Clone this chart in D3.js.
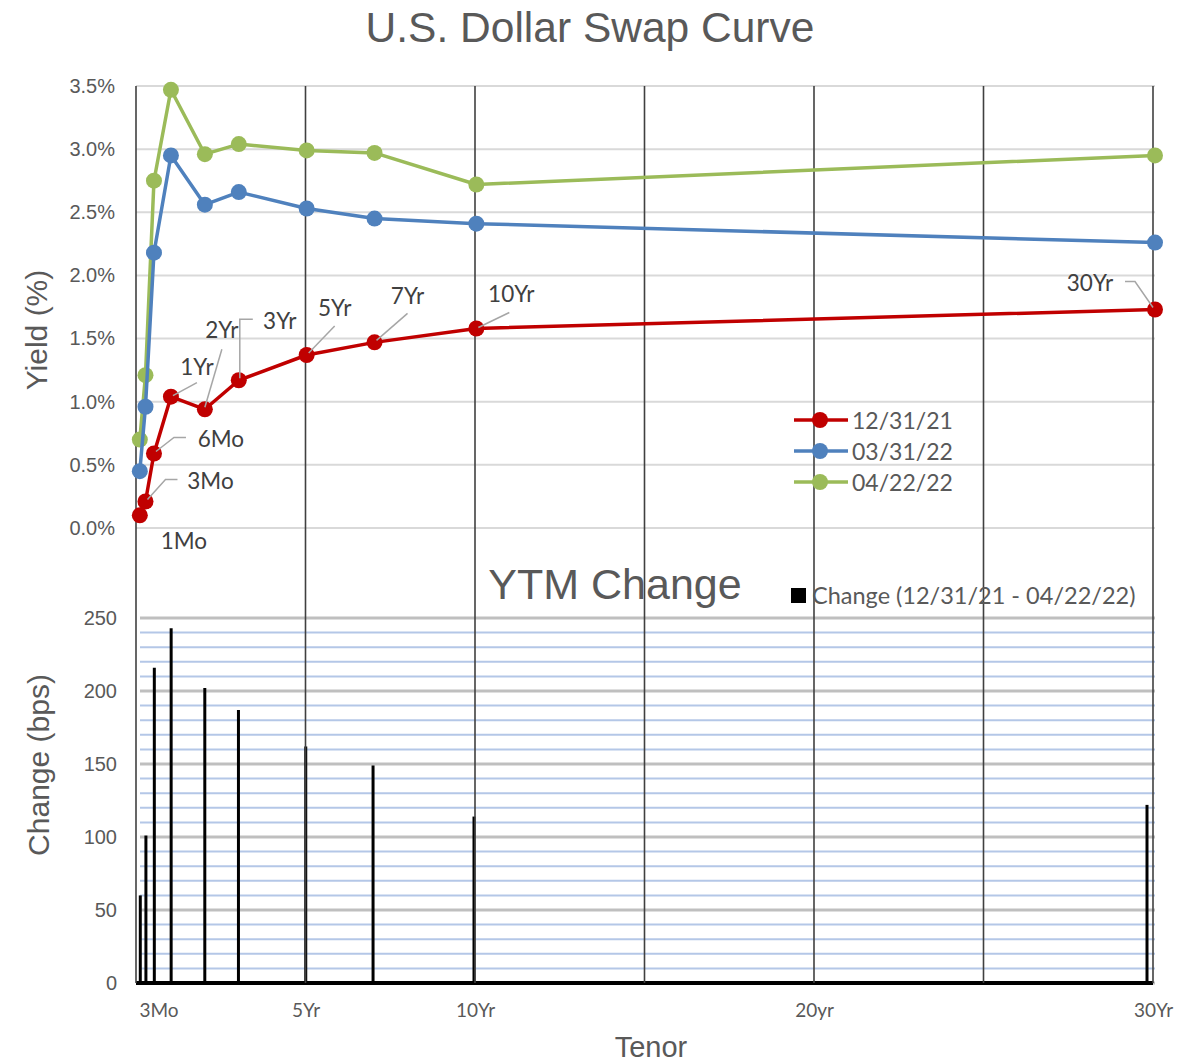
<!DOCTYPE html>
<html>
<head>
<meta charset="utf-8">
<script src="https://cdn.jsdelivr.net/npm/d3@7"></script>
<style>
  html, body { margin: 0; padding: 0; background: #fff; }
  svg { display: block; }
</style>
</head>
<body>
<svg id="chart" width="1199" height="1064"></svg>
<script>
// ---------- DATA ----------
const tenors = ["1Mo", "3Mo", "6Mo", "1Yr", "2Yr", "3Yr", "5Yr", "7Yr", "10Yr", "30Yr"];
const tenorYears = [0.083, 0.25, 0.5, 1, 2, 3, 5, 7, 10, 30];
const yield123121 = [0.10, 0.21, 0.59, 1.04, 0.94, 1.17, 1.37, 1.47, 1.58, 1.73];
const yield033122 = [0.45, 0.96, 2.18, 2.95, 2.56, 2.66, 2.53, 2.45, 2.41, 2.26];
const yield042222 = [0.70, 1.21, 2.75, 3.47, 2.96, 3.04, 2.99, 2.97, 2.72, 2.95];
const changeBps = [60, 101, 216, 243, 202, 187, 162, 149, 114, 122];
const seriesNames = ["12/31/21", "03/31/22", "04/22/22"];
const yieldTicks = [0, 0.5, 1.0, 1.5, 2.0, 2.5, 3.0, 3.5];
const bpsTicks = [0, 50, 100, 150, 200, 250];
const tenorTickYears = [0, 5, 10, 20, 30];
const tenorTickLabels = ["3Mo", "5Yr", "10Yr", "20yr", "30Yr"];
const changeLegend = "Change (12/31/21 - 04/22/22)";

// ---------- STYLE / LAYOUT ----------
const colors = ["#c00000", "#4f81bd", "#9bbb59"];
const txt = "#595959";
const labelFont = "Lato, 'Open Sans', sans-serif";
const arial = "'Liberation Sans', Arial, sans-serif";

const svg = d3.select("#chart");

const xTop = d3.scaleLinear().domain([0, 30]).range([137, 1155]);
const xBot = d3.scaleLinear().domain([0, 30]).range([137.5, 1147]);
const xGrid = d3.scaleLinear().domain([0, 30]).range([136, 1153]);
const yTop = d3.scaleLinear().domain([0, 3.5]).range([528, 86]);
const yBot = d3.scaleLinear().domain([0, 250]).range([983, 618]);

// Title
svg.append("text").attr("x", 590).attr("y", 42).attr("text-anchor", "middle")
  .attr("font-family", arial).attr("font-size", 42.5).attr("fill", txt)
  .text("U.S. Dollar Swap Curve");

// ---- top horizontal gridlines
const gTop = svg.append("g");
gTop.selectAll("line.hg").data(yieldTicks).join("line")
  .attr("x1", 136).attr("x2", 1155)
  .attr("y1", d => yTop(d)).attr("y2", d => yTop(d))
  .attr("stroke", "#d9d9d9").attr("stroke-width", 2);

// top y axis
const yAxisTop = d3.axisLeft(yTop).tickValues(yieldTicks)
  .tickFormat(d => d.toFixed(1) + "%").tickSize(0).tickPadding(0);
svg.append("g").attr("transform", "translate(115,0)").call(yAxisTop)
  .call(g => g.select(".domain").remove())
  .call(g => g.selectAll("text").attr("font-family", arial).attr("font-size", 20).attr("fill", txt));

// ---- bottom gridlines (minor blue every 10, major grey every 50)
const minorTicks = d3.range(0, 251, 10).filter(d => d % 50 !== 0);
const gBot = svg.append("g");
gBot.selectAll("line.minor").data(minorTicks).join("line")
  .attr("x1", 140).attr("x2", 1155)
  .attr("y1", d => yBot(d)).attr("y2", d => yBot(d))
  .attr("stroke", "#b4c7e7").attr("stroke-width", 2);
gBot.selectAll("line.major").data(bpsTicks).join("line")
  .attr("x1", 140).attr("x2", 1155)
  .attr("y1", d => yBot(d)).attr("y2", d => yBot(d))
  .attr("stroke", "#bfbfbf").attr("stroke-width", 3);

const yAxisBot = d3.axisLeft(yBot).tickValues(bpsTicks).tickSize(0).tickPadding(0);
svg.append("g").attr("transform", "translate(117,0)").call(yAxisBot)
  .call(g => g.select(".domain").remove())
  .call(g => g.selectAll("text").attr("font-family", arial).attr("font-size", 20).attr("fill", txt));

// YTM Change title
svg.append("text").attr("x", 615).attr("y", 599).attr("text-anchor", "middle")
  .attr("font-family", arial).attr("font-size", 43).attr("fill", txt)
  .text("YTM Change");

// bars (thin black)
svg.append("g").selectAll("line.bar").data(changeBps).join("line")
  .attr("x1", (d, i) => xBot(tenorYears[i])).attr("x2", (d, i) => xBot(tenorYears[i]))
  .attr("y1", yBot(0)).attr("y2", d => yBot(d))
  .attr("stroke", "#000").attr("stroke-width", 3);

// bottom baseline
svg.append("line").attr("x1", 136).attr("x2", 1153).attr("y1", yBot(0)).attr("y2", yBot(0))
  .attr("stroke", "#000").attr("stroke-width", 4);

// vertical gridlines spanning both panels
const vTicks = d3.range(0, 31, 5);
svg.append("g").selectAll("line.vg").data(vTicks).join("line")
  .attr("x1", d => xGrid(d)).attr("x2", d => xGrid(d))
  .attr("y1", 86).attr("y2", 983)
  .attr("stroke", "#404040").attr("stroke-width", 1.6);

// bottom x labels
const xAxisBot = d3.axisBottom(xGrid).tickValues(tenorTickYears)
  .tickFormat((d, i) => tenorTickLabels[i]).tickSize(0).tickPadding(0);
svg.append("g").attr("transform", "translate(0,1003)").call(xAxisBot)
  .call(g => g.select(".domain").remove())
  .call(g => g.selectAll("text").attr("font-family", labelFont).attr("font-size", 19).attr("fill", txt))
  .call(g => g.selectAll(".tick").filter(d => d === 0).select("text").attr("text-anchor", "start").attr("dx", 3));

// Axis titles
svg.append("text").attr("transform", "translate(47,330) rotate(-90)").attr("text-anchor", "middle")
  .attr("font-family", arial).attr("font-size", 30).attr("fill", txt).text("Yield (%)");
svg.append("text").attr("transform", "translate(49,765) rotate(-90)").attr("text-anchor", "middle")
  .attr("font-family", arial).attr("font-size", 30).attr("fill", txt).text("Change (bps)");
svg.append("text").attr("x", 651).attr("y", 1057).attr("text-anchor", "middle")
  .attr("font-family", arial).attr("font-size", 29).attr("fill", txt).text("Tenor");

// ---- series lines + markers
const allSeries = [yield123121, yield033122, yield042222];
const line = d3.line().x((d, i) => xTop(tenorYears[i])).y(d => yTop(d));
// draw green, blue, red so red on top
[2, 1, 0].forEach(s => {
  const g = svg.append("g");
  g.append("path").datum(allSeries[s]).attr("d", line)
    .attr("fill", "none").attr("stroke", colors[s]).attr("stroke-width", 3.5)
    .attr("stroke-linejoin", "round");
  g.selectAll("circle").data(allSeries[s]).join("circle")
    .attr("cx", (d, i) => xTop(tenorYears[i])).attr("cy", d => yTop(d))
    .attr("r", 8).attr("fill", colors[s]);
});

// ---- data labels for 12/31/21 series with leader lines
const labelLayout = {
  "1Mo":  { t: [44, 25],  lead: null },
  "3Mo":  { t: [65, -21], lead: [[2, -2], [20, -22], [32, -22]] },
  "6Mo":  { t: [67, -15], lead: [[2, -2], [20, -16], [32, -16]] },
  "1Yr":  { t: [26, -30], lead: [[2, -1], [26, -14]] },
  "2Yr":  { t: [17, -80], lead: [[0, -2], [17, -60]] },
  "3Yr":  { t: [41, -60], lead: [[1, -2], [1, -61], [14, -61]] },
  "5Yr":  { t: [28, -47], lead: [[2, -2], [28, -29]] },
  "7Yr":  { t: [33, -47], lead: [[2, -2], [33, -29]] },
  "10Yr": { t: [35, -35], lead: [[2, -1], [33, -16]] },
  "30Yr": { t: [-65, -27], lead: [[-2, -2], [-20, -28], [-30, -28]] }
};
const lblG = svg.append("g");
tenors.forEach((t, i) => {
  const px = xTop(tenorYears[i]), py = yTop(yield123121[i]);
  const L = labelLayout[t];
  if (L.lead) {
    lblG.append("path")
      .attr("d", d3.line()(L.lead.map(p => [px + p[0], py + p[1]])))
      .attr("fill", "none").attr("stroke", "#a6a6a6").attr("stroke-width", 1.5);
  }
  lblG.append("text").attr("x", px + L.t[0]).attr("y", py + L.t[1])
    .attr("text-anchor", "middle").attr("dominant-baseline", "central")
    .attr("font-family", labelFont).attr("font-size", 22.5).attr("fill", "#404040")
    .text(t);
});

// ---- legend (top)
const leg = svg.append("g");
seriesNames.forEach((n, i) => {
  const y = 420 + i * 31;
  leg.append("line").attr("x1", 794).attr("x2", 848).attr("y1", y).attr("y2", y)
    .attr("stroke", colors[i]).attr("stroke-width", 3.5);
  leg.append("circle").attr("cx", 820).attr("cy", y).attr("r", 8).attr("fill", colors[i]);
  leg.append("text").attr("x", 852).attr("y", y).attr("dominant-baseline", "central")
    .attr("font-family", labelFont).attr("font-size", 23).attr("fill", txt).text(n);
});

// ---- legend (bottom)
svg.append("rect").attr("x", 791).attr("y", 588).attr("width", 15).attr("height", 15).attr("fill", "#000");
svg.append("text").attr("x", 812).attr("y", 595).attr("dominant-baseline", "central")
  .attr("font-family", labelFont).attr("font-size", 23.5).attr("fill", txt).text(changeLegend);
</script>
</body>
</html>
